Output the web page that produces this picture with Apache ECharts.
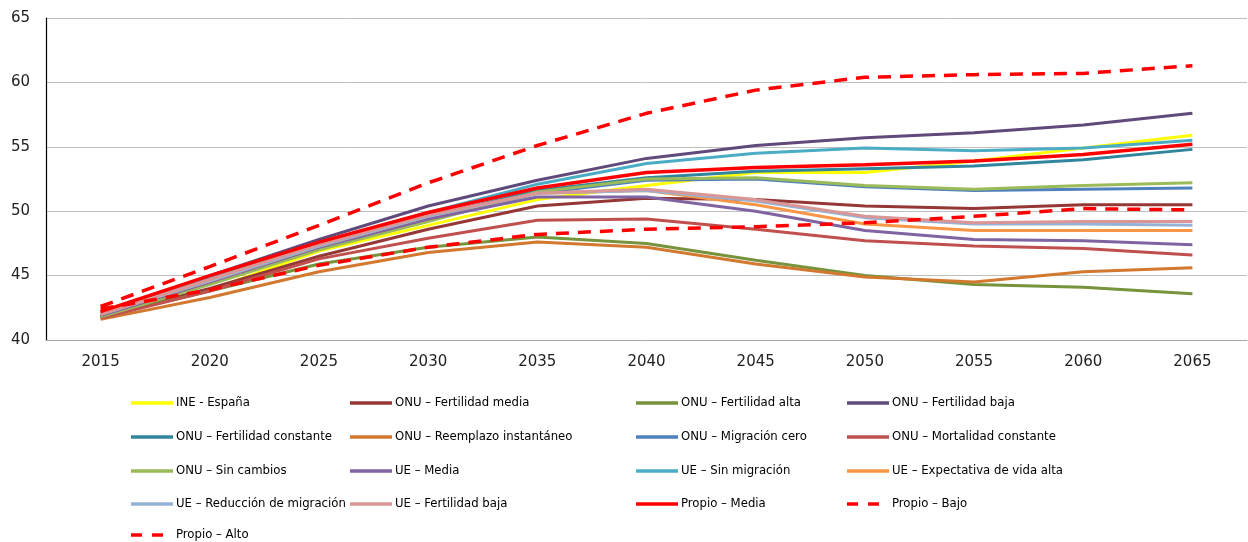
<!DOCTYPE html>
<html>
<head>
<meta charset="utf-8">
<script src="https://cdn.jsdelivr.net/npm/echarts@6/dist/echarts.min.js"></script>
<style>
html,body{margin:0;padding:0;background:#fff;}
#c{width:1248px;height:542px;}
</style>
</head>
<body>
<div id="c"></div>
<script>
const categories = ['2015','2020','2025','2030','2035','2040','2045','2050','2055','2060','2065'];
const yTicks = [40, 45, 50, 55, 60, 65];

const seriesNames = [
  'INE - España',
  'ONU – Fertilidad media',
  'ONU – Fertilidad alta',
  'ONU – Fertilidad baja',
  'ONU – Fertilidad constante',
  'ONU – Reemplazo instantáneo',
  'ONU – Migración cero',
  'ONU – Mortalidad constante',
  'ONU – Sin cambios',
  'UE – Media',
  'UE – Sin migración',
  'UE – Expectativa de vida alta',
  'UE – Reducción de migración',
  'UE – Fertilidad baja',
  'Propio – Media',
  'Propio – Bajo',
  'Propio – Alto'
];

const ineEspana        = [41.9, 43.9, 46.9, 48.9, 50.9, 52.0, 53.0, 53.0, 53.9, 54.9, 55.9];
const onuFertMedia     = [41.8, 44.0, 46.5, 48.6, 50.4, 51.0, 50.9, 50.4, 50.2, 50.5, 50.5];
const onuFertAlta      = [41.8, 43.8, 45.9, 47.2, 48.0, 47.5, 46.2, 45.0, 44.3, 44.1, 43.6];
const onuFertBaja      = [42.1, 45.0, 47.8, 50.4, 52.4, 54.1, 55.1, 55.7, 56.1, 56.7, 57.6];
const onuFertConstante = [42.0, 44.7, 47.3, 49.6, 51.6, 52.6, 53.1, 53.3, 53.5, 54.0, 54.8];
const onuReemplazo     = [41.6, 43.3, 45.3, 46.8, 47.6, 47.2, 45.9, 44.9, 44.5, 45.3, 45.6];
const onuMigCero       = [41.9, 44.6, 47.2, 49.4, 51.4, 52.4, 52.5, 51.9, 51.6, 51.7, 51.8];
const onuMortConstante = [41.7, 43.8, 46.3, 47.9, 49.3, 49.4, 48.6, 47.7, 47.3, 47.1, 46.6];
const onuSinCambios    = [41.8, 44.3, 47.0, 49.2, 51.5, 52.5, 52.6, 52.0, 51.7, 52.0, 52.2];
const ueMedia          = [41.9, 44.5, 47.2, 49.4, 51.1, 51.1, 50.0, 48.5, 47.8, 47.7, 47.4];
const ueSinMigracion   = [42.0, 44.8, 47.5, 49.9, 52.1, 53.7, 54.5, 54.9, 54.7, 54.9, 55.5];
const ueExpVidaAlta    = [42.0, 44.6, 47.3, 49.6, 51.4, 51.6, 50.5, 49.0, 48.5, 48.5, 48.5];
const ueReduccionMig   = [42.0, 44.6, 47.3, 49.6, 51.4, 51.6, 50.8, 49.5, 49.0, 49.0, 48.9];
const ueFertBaja       = [42.0, 44.7, 47.4, 49.7, 51.4, 51.7, 50.9, 49.6, 49.1, 49.2, 49.2];
const propioMedia      = [42.2, 45.0, 47.6, 49.9, 51.8, 53.0, 53.4, 53.6, 53.9, 54.4, 55.2];
const propioBajo       = [42.4, 43.9, 45.8, 47.2, 48.2, 48.6, 48.8, 49.1, 49.6, 50.2, 50.1];
const propioAlto       = [42.6, 45.7, 48.9, 52.2, 55.1, 57.6, 59.4, 60.4, 60.6, 60.7, 61.3];

const seriesValues = [ineEspana, onuFertMedia, onuFertAlta, onuFertBaja, onuFertConstante,
  onuReemplazo, onuMigCero, onuMortConstante, onuSinCambios, ueMedia, ueSinMigracion,
  ueExpVidaAlta, ueReduccionMig, ueFertBaja, propioMedia, propioBajo, propioAlto];

const colors = ['#FFFF00','#953735','#77933C','#604A7B','#31859C','#D2782F','#4F81BD','#C0504D',
  '#9BBB59','#8064A2','#4BACC6','#F79646','#95B3D7','#D99694','#FF0000','#FF0000','#FF0000'];
const dashed = [false,false,false,false,false,false,false,false,false,false,false,false,false,false,false,true,true];

// legend layout (rows/columns as in the reference)
const legendCols = [131, 350, 636, 847];
const legendRows = [403, 437, 471, 504, 535];

const series = seriesNames.map((n, i) => ({
  name: n,
  type: 'line',
  data: seriesValues[i],
  symbol: 'none',
  smooth: false,
  z: 2 + i,
  lineStyle: {
    color: colors[i],
    width: dashed[i] ? 3.5 : (i === 14 ? 3.5 : 3),
    type: dashed[i] ? [13, 9] : 'solid',
    cap: 'butt'
  },
  itemStyle: {color: colors[i]}
}));

const textStyleBase = {fontFamily: 'DejaVu Sans Condensed', fontSize: 13, color: '#000', lineHeight: 16};

const legends = [];
seriesNames.forEach((n, i) => {
  const left = legendCols[i % 4];
  const top = legendRows[Math.floor(i / 4)] - 8;
  const common = {
    top: top, itemHeight: 3.5, itemGap: 0, padding: 0, selectedMode: false,
    itemStyle: {color: colors[i], borderWidth: 0}
  };
  if (!dashed[i]) {
    legends.push(Object.assign({}, common, {
      data: [{name: n, icon: 'rect'}], left: left, itemWidth: 42,
      textStyle: Object.assign({}, textStyleBase, {padding: [0, 0, 0, -2]})
    }));
  } else {
    // first dash + label
    legends.push(Object.assign({}, common, {
      data: [{name: n, icon: 'rect'}], left: left, itemWidth: 11,
      textStyle: Object.assign({}, textStyleBase, {padding: [0, 0, 0, 29]})
    }));
    // second dash, blank label of the same height
    legends.push(Object.assign({}, common, {
      data: [{name: n, icon: 'rect'}], left: left + 21, itemWidth: 11,
      formatter: function () { return ' '; },
      textStyle: Object.assign({}, textStyleBase)
    }));
  }
});

const chart = echarts.init(document.getElementById('c'), null, {renderer: 'canvas'});
chart.setOption({
  animation: false,
  backgroundColor: '#fff',
  grid: {left: 46, right: 1, top: 18, bottom: 202, containLabel: false},
  legend: legends,
  xAxis: {
    type: 'category',
    data: categories,
    boundaryGap: true,
    axisLine: {show: true, lineStyle: {color: '#A6A6A6', width: 1}},
    axisTick: {show: false},
    axisLabel: {fontFamily: 'DejaVu Sans', fontSize: 15, color: '#222', margin: 15}
  },
  yAxis: {
    type: 'value',
    min: yTicks[0],
    max: yTicks[yTicks.length - 1],
    interval: yTicks[1] - yTicks[0],
    axisLine: {show: true, lineStyle: {color: '#000', width: 1.2}},
    axisTick: {show: false},
    splitLine: {show: true, lineStyle: {color: '#BFBFBF', width: 1}},
    axisLabel: {fontFamily: 'DejaVu Sans', fontSize: 15, color: '#222', margin: 16}
  },
  series: series
});
</script>
</body>
</html>
